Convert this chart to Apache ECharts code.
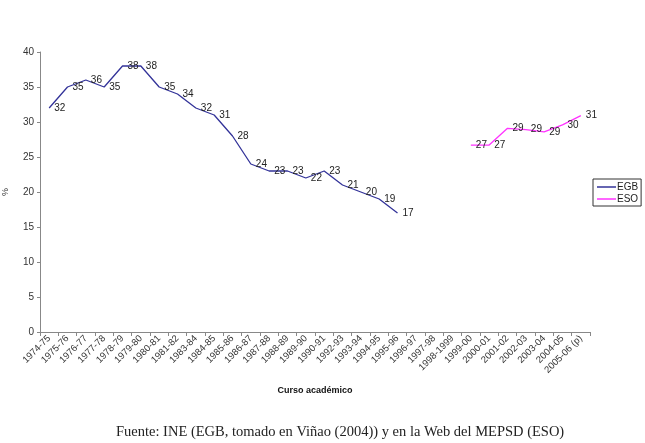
<!DOCTYPE html>
<html>
<head>
<meta charset="utf-8">
<script src="https://cdn.jsdelivr.net/npm/echarts@6/dist/echarts.min.js"></script>
<style>
  html, body { margin: 0; padding: 0; background: #fff; }
  #chart { width: 645px; height: 443px; }
</style>
</head>
<body>
<div id="chart"></div>
<script>
// Academic years (category axis)
const courses = [
  "1974-75", "1975-76", "1976-77", "1977-78", "1978-79", "1979-80",
  "1980-81", "1981-82", "1983-84", "1984-85", "1985-86", "1986-87",
  "1987-88", "1988-89", "1989-90", "1990-91", "1992-93", "1993-94",
  "1994-95", "1995-96", "1996-97", "1997-98", "1998-1999", "1999-00",
  "2000-01", "2001-02", "2002-03", "2003-04", "2004-05", "2005-06 (p)"
];

// EGB series (1974-75 .. 1995-96), then gap
const egbValues = [
  32, 35, 36, 35, 38, 38, 35, 34, 32, 31, 28, 24, 23, 23, 22, 23, 21, 20, 19, 17,
  null, null, null, null, null, null, null, null, null, null
];

// ESO series (1999-00 .. 2005-06)
const esoValues = [
  null, null, null, null, null, null, null, null, null, null,
  null, null, null, null, null, null, null, null, null, null,
  null, null, null, 26.7, 26.7, 29.1, 28.9, 28.6, 29.6, 30.9
];

const yTicks = { min: 0, max: 40, interval: 5 };

const caption = "Fuente: INE (EGB, tomado en Viñao (2004)) y en la Web del MEPSD (ESO)";

const chart = echarts.init(document.getElementById("chart"), null, { renderer: "canvas" });

const labelStyle = {
  show: true,
  position: "right",
  distance: 5,
  fontFamily: "Liberation Sans",
  fontSize: 10,
  color: "#222",
  formatter: (p) => Math.round(p.value)
};

chart.setOption({
  animation: false,
  textStyle: { fontFamily: "Liberation Sans" },
  title: {
    text: caption,
    left: 111,
    top: 420,
    textStyle: {
      fontFamily: "Liberation Serif",
      fontWeight: "normal",
      fontSize: 14.5,
      color: "#222"
    }
  },
  legend: {
    orient: "vertical",
    left: 593,
    top: 179,
    padding: [3, 3, 2, 4],
    itemGap: 2,
    itemWidth: 19,
    itemHeight: 1.5,
    icon: "rect",
    borderColor: "#333",
    borderWidth: 1,
    borderRadius: 0,
    textStyle: { fontSize: 10, color: "#222", padding: [0, 0, 0, -4] },
    data: ["EGB", "ESO"]
  },
  grid: {
    left: 40,
    right: 55,
    top: 52,
    bottom: 111,
    containLabel: false,
    outerBoundsMode: "none"
  },
  xAxis: {
    type: "category",
    data: courses,
    boundaryGap: true,
    name: "Curso académico",
    nameLocation: "middle",
    nameGap: 54,
    nameTextStyle: { fontSize: 9, fontWeight: "bold", color: "#111" },
    axisLine: { lineStyle: { color: "#888", width: 1 } },
    axisTick: { show: true, alignWithLabel: false, length: 4, lineStyle: { color: "#888" } },
    axisLabel: {
      interval: 0,
      rotate: 45,
      fontSize: 9.5,
      color: "#333",
      margin: 5
    },
    splitLine: { show: false }
  },
  yAxis: {
    type: "value",
    min: yTicks.min,
    max: yTicks.max,
    interval: yTicks.interval,
    name: "%",
    nameLocation: "middle",
    nameGap: 30,
    nameRotate: 90,
    nameTextStyle: { fontSize: 9, color: "#333" },
    axisLine: { show: true, lineStyle: { color: "#888", width: 1 } },
    axisTick: { show: true, length: 3, lineStyle: { color: "#888" } },
    axisLabel: { fontSize: 10, color: "#333", margin: 6 },
    splitLine: { show: false }
  },
  series: [
    {
      name: "EGB",
      type: "line",
      data: egbValues,
      connectNulls: false,
      symbol: "circle",
      symbolSize: 0,
      showSymbol: true,
      itemStyle: { color: "#333399" },
      lineStyle: { color: "#333399", width: 1.3 },
      label: labelStyle
    },
    {
      name: "ESO",
      type: "line",
      data: esoValues,
      connectNulls: false,
      symbol: "circle",
      symbolSize: 0,
      showSymbol: true,
      itemStyle: { color: "#ff33ff" },
      lineStyle: { color: "#ff33ff", width: 1.3 },
      label: labelStyle
    }
  ]
});
</script>
</body>
</html>
